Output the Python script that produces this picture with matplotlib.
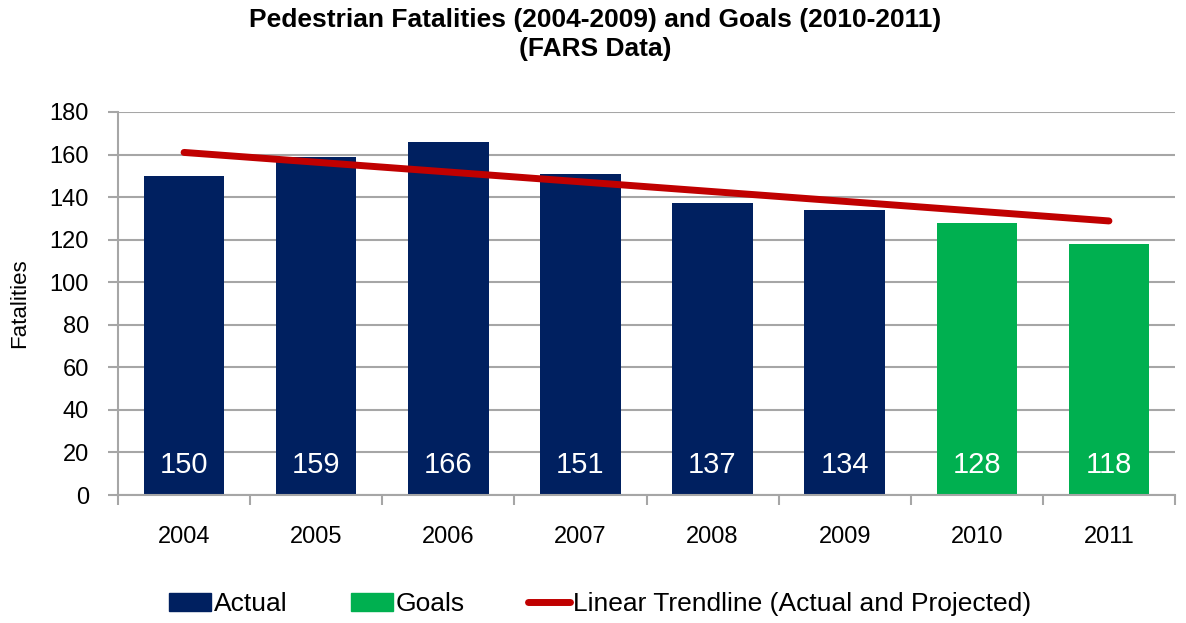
import numpy as np
import matplotlib.pyplot as plt
from matplotlib.patches import Patch
from matplotlib.lines import Line2D

plt.rcParams['font.family'] = ['Liberation Sans Narrow', 'Liberation Sans', 'DejaVu Sans']

years = ["2004", "2005", "2006", "2007", "2008", "2009", "2010", "2011"]
actual = [150, 159, 166, 151, 137, 134]
goals = [128, 118]

navy = "#002060"
green = "#00b050"
red = "#c00000"
grid_gray = "#a6a6a6"

fig = plt.figure(figsize=(11.86, 6.23), dpi=100)
ax = fig.add_axes([118 / 1186, 1 - 495 / 623, (1175 - 118) / 1186, (495 - 112) / 623])

x = np.arange(len(years))
values = actual + goals
colors = [navy] * len(actual) + [green] * len(goals)
ax.bar(x, values, width=0.61, color=colors, zorder=2)

for xi, v in zip(x, values):
    ax.text(xi, 14, str(v), ha="center", va="center", color="white", fontsize=21, zorder=3)

# linear trend fitted to the actual years, extended over the goal years
coef = np.polyfit(x[:len(actual)], actual, 1)
ax.plot(x, np.polyval(coef, x), color=red, lw=5, solid_capstyle="round", zorder=4)

ax.set_xlim(-0.5, len(years) - 0.5)
ax.set_ylim(0, 180)
ax.set_yticks(range(0, 181, 20))
ax.set_xticks(x)
ax.set_xticklabels(years)
ax.set_xticks(np.arange(-0.5, len(years), 1), minor=True)
ax.tick_params(axis="x", which="major", length=0, pad=22, labelsize=17)
ax.tick_params(axis="x", which="minor", length=7, width=1.5, color=grid_gray)
ax.tick_params(axis="y", length=7, width=1.5, color=grid_gray, labelsize=17, pad=14)
ax.yaxis.grid(True, color=grid_gray, lw=1.5, zorder=0)
ax.set_axisbelow(True)
for s in ["top", "right"]:
    ax.spines[s].set_visible(False)
for s in ["left", "bottom"]:
    ax.spines[s].set_color(grid_gray)
    ax.spines[s].set_linewidth(1.5)

ax.set_ylabel("Fatalities", fontsize=16, labelpad=14)

fig.suptitle("Pedestrian Fatalities (2004-2009) and Goals (2010-2011)\n(FARS Data)",
             x=595 / 1186, y=1 - 8 / 623, fontsize=19, fontweight="bold", linespacing=1.25)

handles = [Patch(color=navy), Patch(color=green), Line2D([], [], color=red, lw=5, solid_capstyle="round")]
fig.legend(handles, ["Actual", "Goals", "Linear Trendline (Actual and Projected)"],
           loc="center", bbox_to_anchor=(600 / 1186, 1 - 604 / 623), ncol=3, frameon=False,
           fontsize=19, handlelength=1.6, handletextpad=0.1, columnspacing=2.4)

fig.savefig("out.png", dpi=100)
